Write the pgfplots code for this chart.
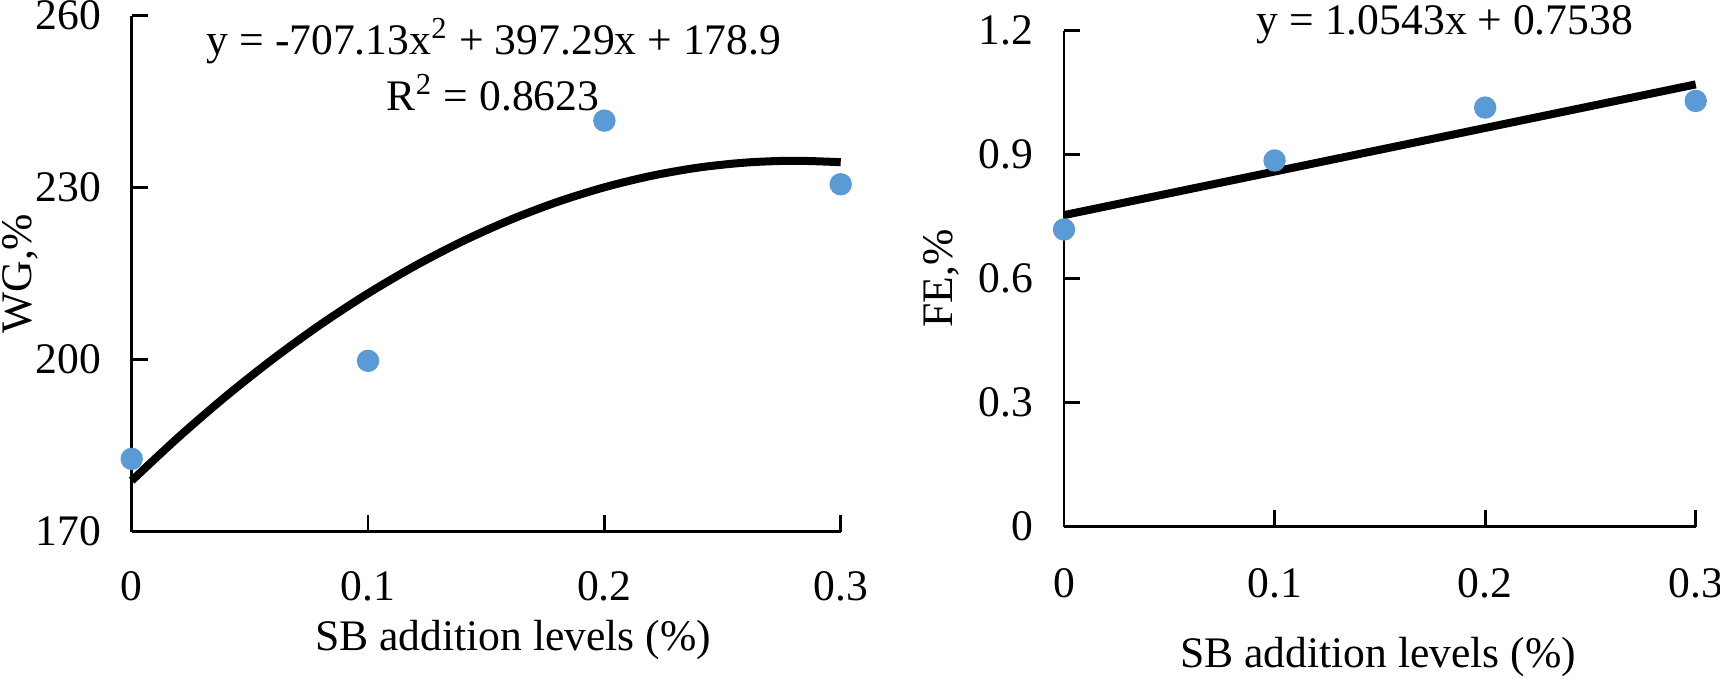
\documentclass[border=0pt]{standalone}
\usepackage{fontspec}
\setmainfont{Liberation Serif}
\usepackage{pgfplots}
\pgfplotsset{compat=1.18}
\definecolor{ptblue}{HTML}{5B9BD5}
\pgfplotsset{
  myaxis/.style={
    scale only axis, anchor=south west,
    axis lines=left,
    axis line style={-, line width=0.68pt, black},
    tick align=inside, major tick length=4.1pt,
    every tick/.style={line width=0.68pt, black},
    /pgf/number format/assume math mode=true,
    tick label style={font=\fontsize{10.9}{13}\selectfont},
    label style={font=\fontsize{10.9}{13}\selectfont},
    yticklabel style={anchor=east, inner sep=0pt, xshift=-7.5pt},
    xtick={0,0.1,0.2,0.3}, xmin=0, xmax=0.3,
    clip=false,
  },
  pts/.style={only marks, mark=*, mark size=2.6pt, color=ptblue, mark options={draw=ptblue, fill=ptblue}},
  trend/.style={black, line width=2pt, no marks},
}
\begin{document}
\fontsize{10.9}{13}\selectfont
\begin{tikzpicture}
\useasboundingbox (0,0) rectangle (430pt,-172.75pt);
% ---------------- left panel ----------------
\begin{axis}[myaxis,
  at={(32.925pt,-132.925pt)}, width=177.25pt, height=129pt,
  ymin=170, ymax=260, ytick={170,200,230,260},
  xticklabel style={anchor=base, inner sep=0pt, yshift=-17.1pt},
  xlabel={SB addition levels (\%)},
  xlabel style={at={(axis description cs:0.5378,-0.2293)}, anchor=base, inner sep=0pt},
  ylabel={WG,\%},
  ylabel style={at={(axis description cs:-0.141,0.5)}, anchor=base, inner sep=0pt},
]
\addplot[pts] coordinates {(0,182.7) (0.1,199.8) (0.2,241.7) (0.3,230.6)};
\addplot[trend, smooth] coordinates {
 (0,178.90) (0.02,186.56) (0.04,193.66) (0.06,200.19) (0.08,206.16)
 (0.10,211.56) (0.12,216.39) (0.14,220.66) (0.16,224.36) (0.18,227.50)
 (0.20,230.07) (0.22,232.08) (0.24,233.52) (0.26,234.39) (0.28,234.70) (0.30,234.45)};
\node[anchor=base, inner sep=0pt] at (axis description cs:0.511,0.9257)
  {y = -707.13x\textsuperscript{2} + 397.29x + 178.9};
\node[anchor=base, inner sep=0pt] at (axis description cs:0.5096,0.8172)
  {R\textsuperscript{2} = 0.8623};
\end{axis}
% ---------------- right panel ----------------
\begin{axis}[myaxis,
  at={(266pt,-131.675pt)}, width=157.925pt, height=124pt,
  ymin=0, ymax=1.2, ytick={0,0.3,0.6,0.9,1.2},
  xticklabel style={anchor=base, inner sep=0pt, yshift=-17.8pt},
  xlabel={SB addition levels (\%)},
  xlabel style={at={(axis description cs:0.4971,-0.2829)}, anchor=base, inner sep=0pt},
  ylabel={FE,\%},
  ylabel style={at={(axis description cs:-0.1762,0.5)}, anchor=base, inner sep=0pt},
]
\addplot[pts] coordinates {(0,0.719) (0.1,0.886) (0.2,1.014) (0.3,1.030)};
\addplot[trend] coordinates {(0,0.7538) (0.3,1.0701)};
\node[anchor=base, inner sep=0pt] at (axis description cs:0.6031,0.9913)
  {y = 1.0543x + 0.7538};
\end{axis}
\end{tikzpicture}
\end{document}
